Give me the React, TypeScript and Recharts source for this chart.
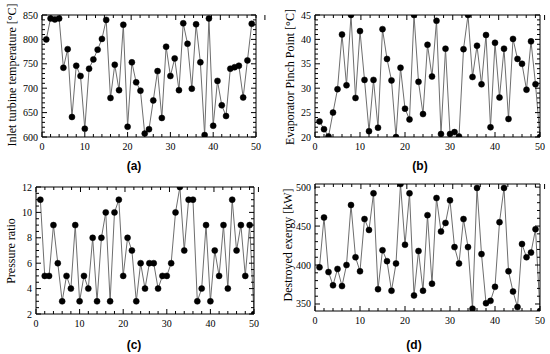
import React from 'react';
import { LineChart, Line, XAxis, YAxis } from 'recharts';

// ---- Data ----
const turbineTemp = [800, 843, 841, 843, 742, 780, 641, 746, 725, 617, 740, 759, 779, 801, 840, 680, 748, 696, 830, 621, 753, 712, 695, 607, 616, 675, 735, 639, 785, 725, 761, 696, 833, 791, 699, 831, 753, 604, 843, 623, 715, 665, 643, 740, 743, 746, 681, 757, 832];
const pinchPoint = [23.2, 21.6, 20.1, 25.0, 29.8, 41.0, 30.6, 45, 28.0, 41.7, 31.7, 21.2, 31.7, 21.9, 42.1, 36.0, 31.6, 20.0, 34.2, 25.8, 23.6, 45, 31.3, 24.7, 38.9, 32.4, 43.8, 20.6, 38.1, 20.6, 21.0, 20.1, 38.0, 45, 32.3, 38.7, 30.8, 40.9, 22.0, 39.3, 28.1, 38.1, 23.7, 40.1, 36.0, 35.0, 29.7, 39.6, 30.8, 20.0];
const pressureRatio = [11, 5, 5, 9, 6, 3, 5, 4, 9, 3, 5, 4, 8, 3, 8, 10, 3, 10, 11, 5, 8, 7, 3, 6, 4, 6, 6, 4, 5, 5, 6, 10, 12, 7, 11, 11, 3, 4, 9, 3, 7, 5, 9, 4, 11, 7, 9, 5, 9, 2];
const destroyedExergy = [397, 461, 391, 374, 395, 373, 400, 477, 410, 392, 459, 445, 492, 369, 419, 405, 367, 402, 504, 426, 492, 361, 418, 367, 464, 376, 486, 443, 454, 483, 423, 402, 459, 423, 344, 499, 414, 351, 354, 372, 455, 499, 392, 366, 346, 427, 410, 416, 446, 341];

const xMajorTicks = [0, 10, 20, 30, 40, 50];
const yMajorA = [600, 650, 700, 750, 800, 850];
const yMajorB = [20, 25, 30, 35, 40, 45];
const yMajorC = [2, 4, 6, 8, 10, 12];
const yMajorD = [350, 400, 450, 500];

const labelA = 'Inlet turbine temperature [°C]';
const labelB = 'Evaporator Pinch Point [°C]';
const labelC = 'Pressure ratio';
const labelD = 'Destroyed exergy [kW]';

// minor tick helpers (decoration, not data)
const range = (a: number, b: number, s: number) => {
  const out: number[] = [];
  for (let v = a; v <= b + 1e-9; v += s) out.push(Math.round(v * 1000) / 1000);
  return out;
};
const xMinorTicks = range(0, 50, 2);

const toRows = (arr: number[]) => arr.map((v, i) => ({ n: i + 1, v }));

const FONT = 'Liberation Serif';

const isMajor = (v: number, majors: number[]) => majors.some((m) => Math.abs(m - v) < 1e-6);

const makeBottomTick = (majors: number[]) => (props: any) => {
  const { x, y, payload } = props;
  const mj = isMajor(payload.value, majors);
  return (
    <g>
      <line x1={x} y1={y} x2={x} y2={y - (mj ? 5 : 3)} stroke="#000" strokeWidth={1} />
      {mj && (
        <text x={x} y={y + 13} textAnchor="middle" fontSize={10} fontFamily={FONT} fill="#000">
          {payload.value}
        </text>
      )}
    </g>
  );
};
const makeTopTick = (majors: number[]) => (props: any) => {
  const { x, y, payload } = props;
  const mj = isMajor(payload.value, majors);
  return <line x1={x} y1={y} x2={x} y2={y + (mj ? 5 : 3)} stroke="#000" strokeWidth={1} />;
};
const makeLeftTick = (majors: number[]) => (props: any) => {
  const { x, y, payload } = props;
  const mj = isMajor(payload.value, majors);
  return (
    <g>
      <line x1={x} y1={y} x2={x + (mj ? 5 : 3)} y2={y} stroke="#000" strokeWidth={1} />
      {mj && (
        <text x={x - 4} y={y} dy="0.35em" textAnchor="end" fontSize={10} fontFamily={FONT} fill="#000">
          {payload.value}
        </text>
      )}
    </g>
  );
};
const makeRightTick = (majors: number[]) => (props: any) => {
  const { x, y, payload } = props;
  const mj = isMajor(payload.value, majors);
  return <line x1={x} y1={y} x2={x - (mj ? 5 : 3)} y2={y} stroke="#000" strokeWidth={1} />;
};

type PanelProps = {
  left: number;
  top: number;
  width: number;
  height: number;
  pad: { top: number; right: number; bottom: number; left: number };
  values: number[];
  yDomain: [number, number];
  yMajor: number[];
  yMinor: number[];
};

const Panel = ({ left, top, width, height, pad, values, yDomain, yMajor, yMinor }: PanelProps) => {
  const data = toRows(values);
  return (
    <div style={{ position: 'absolute', left, top, width, height }}>
      <LineChart width={width} height={height} data={data} margin={{ top: 0, right: 0, bottom: 0, left: 0 }}>
        <XAxis
          xAxisId="b"
          dataKey="n"
          type="number"
          domain={[0, 50]}
          allowDataOverflow
          ticks={xMinorTicks}
          interval={0}
          tickLine={false}
          tickSize={0}
          tickMargin={0}
          height={pad.bottom}
          axisLine={{ stroke: '#000', strokeWidth: 1 }}
          tick={makeBottomTick(xMajorTicks)}
        />
        <XAxis
          xAxisId="t"
          orientation="top"
          type="number"
          domain={[0, 50]}
          allowDataOverflow
          ticks={xMinorTicks}
          interval={0}
          tickLine={false}
          tickSize={0}
          tickMargin={0}
          height={pad.top}
          axisLine={{ stroke: '#000', strokeWidth: 1 }}
          tick={makeTopTick(xMajorTicks)}
        />
        <YAxis
          yAxisId="l"
          type="number"
          domain={yDomain}
          allowDataOverflow
          ticks={yMinor}
          interval={0}
          tickLine={false}
          tickSize={0}
          tickMargin={0}
          width={pad.left}
          axisLine={{ stroke: '#000', strokeWidth: 1 }}
          tick={makeLeftTick(yMajor)}
        />
        <YAxis
          yAxisId="r"
          orientation="right"
          type="number"
          domain={yDomain}
          allowDataOverflow
          ticks={yMinor}
          interval={0}
          tickLine={false}
          tickSize={0}
          tickMargin={0}
          width={pad.right}
          axisLine={{ stroke: '#000', strokeWidth: 1 }}
          tick={makeRightTick(yMajor)}
        />
        <Line
          xAxisId="b"
          yAxisId="l"
          dataKey="v"
          type="linear"
          stroke="#6e6e6e"
          strokeWidth={1}
          dot={{ r: 3, fill: '#000', stroke: '#000', strokeWidth: 0.5 }}
          isAnimationActive={false}
        />
      </LineChart>
    </div>
  );
};

export default function App() {
  return (
    <div style={{ position: 'absolute', left: 0, top: 0, width: 550, height: 354, background: '#fff', overflow: 'hidden' }}>
      <Panel
        left={0}
        top={0}
        width={275}
        height={175}
        pad={{ top: 15, right: 19, bottom: 38, left: 42 }}
        values={turbineTemp}
        yDomain={[600, 850]}
        yMajor={yMajorA}
        yMinor={range(600, 850, 10)}
      />
      <Panel
        left={275}
        top={0}
        width={275}
        height={175}
        pad={{ top: 15, right: 10, bottom: 38, left: 40 }}
        values={pinchPoint}
        yDomain={[20, 45]}
        yMajor={yMajorB}
        yMinor={range(20, 45, 1)}
      />
      <Panel
        left={0}
        top={175}
        width={275}
        height={179}
        pad={{ top: 12, right: 21, bottom: 40, left: 36 }}
        values={pressureRatio}
        yDomain={[2, 12]}
        yMajor={yMajorC}
        yMinor={range(2, 12, 0.5)}
      />
      <Panel
        left={275}
        top={175}
        width={275}
        height={179}
        pad={{ top: 9, right: 10, bottom: 43, left: 40 }}
        values={destroyedExergy}
        yDomain={[341, 504]}
        yMajor={yMajorD}
        yMinor={range(350, 500, 10)}
      />
      <svg width={550} height={354} style={{ position: 'absolute', left: 0, top: 0, pointerEvents: 'none' }}>
        <g fontFamily={FONT} fontSize={12} fill="#000">
          <text transform="translate(12,75) rotate(-90)" textAnchor="middle" dominantBaseline="central">{labelA}</text>
          <text transform="translate(290,77) rotate(-90)" textAnchor="middle" dominantBaseline="central">{labelB}</text>
          <text transform="translate(11,251) rotate(-90)" textAnchor="middle" dominantBaseline="central">{labelC}</text>
          <text transform="translate(288,245) rotate(-90)" textAnchor="middle" dominantBaseline="central">{labelD}</text>
        </g>
        <g fontFamily="Liberation Sans" fontSize={12} fontWeight="bold" fill="#000" textAnchor="middle">
          <text x={134} y={170}>(a)</text>
          <text x={420} y={170}>(b)</text>
          <text x={134} y={349}>(c)</text>
          <text x={414} y={349}>(d)</text>
        </g>
      </svg>
    </div>
  );
}
